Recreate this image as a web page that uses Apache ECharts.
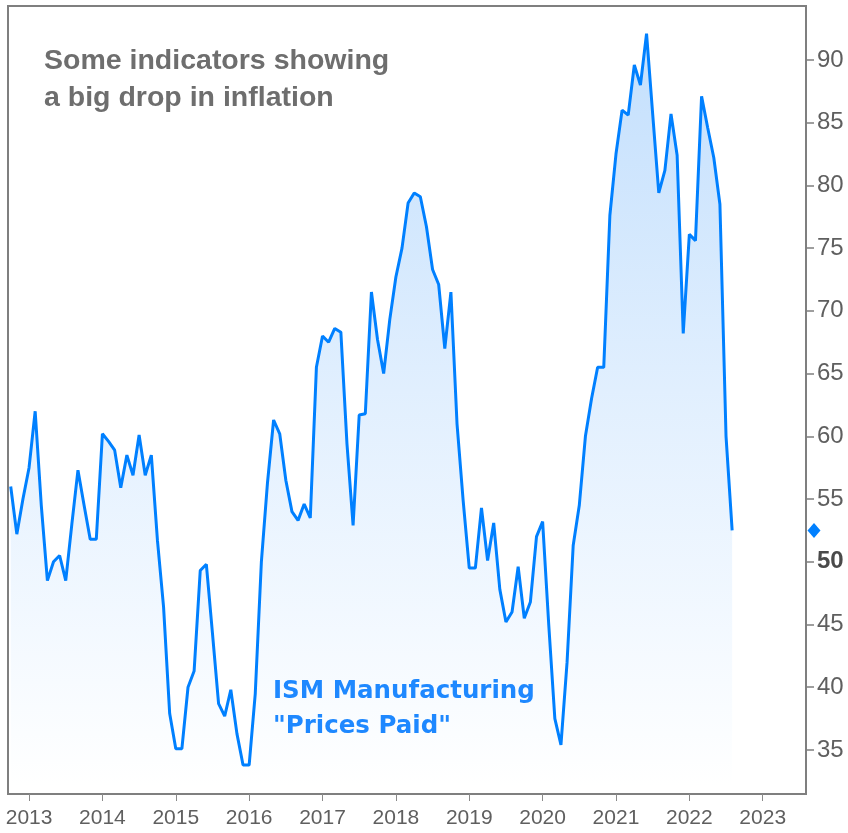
<!DOCTYPE html>
<html>
<head>
<meta charset="utf-8">
<script src="https://cdn.jsdelivr.net/npm/echarts@6/dist/echarts.min.js"></script>
<style>
  html, body { margin: 0; padding: 0; background: #fff; }
  #chart { width: 848px; height: 833px; }
</style>
</head>
<body>
<div id="chart"></div>
<script>
// ISM Manufacturing "Prices Paid", monthly, Oct 2012 .. Aug 2022
const firstMonth2012 = 10
const prices2012 = [56.0, 52.2, 55.0]
const prices2013 = [57.5, 62.0, 54.5, 48.5, 50.0, 50.5, 48.5, 53.0, 57.3, 54.5, 51.8, 51.8]
const prices2014 = [60.2, 59.6, 58.9, 55.9, 58.5, 56.9, 60.1, 56.9, 58.5, 51.7, 46.4, 37.9]
const prices2015 = [35.1, 35.1, 40.0, 41.3, 49.3, 49.8, 44.3, 38.7, 37.7, 39.8, 36.3, 33.8]
const prices2016 = [33.8, 39.5, 50.0, 56.3, 61.3, 60.2, 56.5, 54.0, 53.3, 54.6, 53.5, 65.5]
const prices2017 = [68.0, 67.5, 68.6, 68.3, 59.4, 52.9, 61.7, 61.8, 71.5, 67.7, 65.0, 69.3]
const prices2018 = [72.7, 75.0, 78.6, 79.4, 79.1, 76.7, 73.3, 72.1, 67.0, 71.5, 61.0, 54.9]
const prices2019 = [49.5, 49.5, 54.3, 50.1, 53.1, 47.8, 45.2, 46.0, 49.6, 45.5, 46.8, 52.0]
const prices2020 = [53.2, 45.0, 37.5, 35.4, 42.0, 51.3, 54.5, 60.0, 63.0, 65.5, 65.5, 77.6]
const prices2021 = [82.5, 86.0, 85.6, 89.6, 88.0, 92.1, 85.7, 79.4, 81.2, 85.7, 82.4, 68.2]
const prices2022 = [76.1, 75.6, 87.1, 84.6, 82.2, 78.5, 60.0, 52.5]

const yearLabels = [2013, 2014, 2015, 2016, 2017, 2018, 2019, 2020, 2021, 2022, 2023]
const priceLabels = [35, 40, 45, 50, 55, 60, 65, 70, 75, 80, 85, 90]

const byYear = [
  [2012, prices2012], [2013, prices2013], [2014, prices2014], [2015, prices2015],
  [2016, prices2016], [2017, prices2017], [2018, prices2018], [2019, prices2019],
  [2020, prices2020], [2021, prices2021], [2022, prices2022]
]
const points = []
byYear.forEach(([year, vals]) => {
  const m0 = year === 2012 ? firstMonth2012 : 1
  vals.forEach((v, i) => points.push([year + (m0 - 1 + i) / 12, v]))
})
const last = points[points.length - 1]

const axisGrey = '#7f7f7f'
const labelGrey = '#5f5f5f'

const chart = echarts.init(document.getElementById('chart'))
chart.setOption({
  animation: false,
  title: [
    {
      text: 'Some indicators showing\na big drop in inflation',
      left: 44,
      top: 43,
      padding: 0,
      textStyle: {
        fontFamily: 'Liberation Sans',
        fontWeight: 'bold',
        fontSize: 28.5,
        lineHeight: 37,
        color: '#6e6e6e'
      }
    },
    {
      text: 'ISM Manufacturing\n"Prices Paid"',
      left: 273,
      top: 674,
      padding: 0,
      textStyle: {
        fontFamily: 'DejaVu Sans',
        fontWeight: 'bold',
        fontSize: 24.5,
        lineHeight: 35,
        color: '#1e88ff'
      }
    }
  ],
  grid: {
    left: 8,
    right: 42,
    top: 6,
    bottom: 39,
    show: true,
    borderColor: axisGrey,
    borderWidth: 2,
    backgroundColor: 'transparent'
  },
  xAxis: {
    type: 'value',
    z: 5,
    min: 2012.713,
    max: 2023.59,
    splitLine: { show: false },
    axisLine: { show: true, lineStyle: { color: axisGrey, width: 2 } },
    axisTick: { show: true, length: 7, customValues: yearLabels, lineStyle: { color: '#8a8a8a', width: 1 } },
    axisLabel: {
      customValues: yearLabels,
      margin: 14,
      fontFamily: 'Liberation Sans',
      fontSize: 21,
      color: labelGrey,
      formatter: (v) => String(Math.round(v))
    }
  },
  yAxis: {
    type: 'value',
    z: 5,
    position: 'right',
    min: 31.49,
    max: 94.3,
    splitLine: { show: false },
    axisLine: { show: true, lineStyle: { color: axisGrey, width: 2 } },
    axisTick: { show: true, length: 8, customValues: priceLabels, lineStyle: { color: axisGrey, width: 1.5 } },
    axisLabel: {
      customValues: priceLabels,
      margin: 11,
      fontFamily: 'Liberation Sans',
      fontSize: 24,
      color: labelGrey,
      formatter: (v) => (v === 50 ? '{b|50}' : String(v)),
      rich: {
        b: { fontFamily: 'Liberation Sans', fontSize: 24, fontWeight: 'bold', color: '#4a4a4a' }
      }
    }
  },
  series: [
    {
      type: 'line',
      data: points,
      symbol: 'none',
      clip: true,
      lineStyle: { color: '#0080ff', width: 3 },
      areaStyle: {
        color: new echarts.graphic.LinearGradient(0, 0, 0, 1, [
          { offset: 0, color: '#a9d1fb' },
          { offset: 0.5, color: '#d6e9fd' },
          { offset: 1, color: '#ffffff' }
        ])
      },
      markPoint: {
        symbol: 'diamond',
        symbolSize: [13, 15],
        symbolOffset: [8, 0],
        label: { show: false },
        itemStyle: { color: '#0080ff' },
        data: [{ coord: [2023.59, last[1]] }]
      }
    }
  ]
})
</script>
</body>
</html>
